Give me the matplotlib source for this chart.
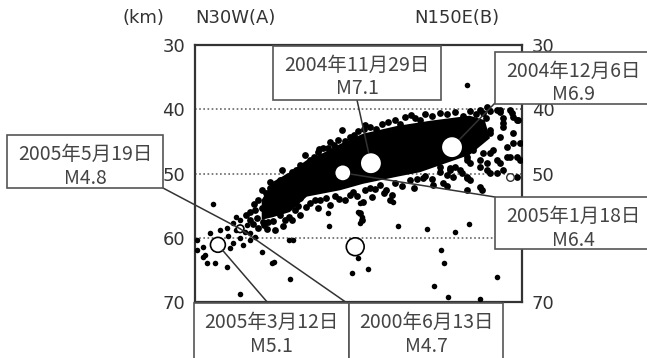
import matplotlib.pyplot as plt
from matplotlib.patches import Rectangle, ConnectionPatch

W, H = 647, 358

# 震源 (水平距離 km, 深さ km) -- 図から読み取った概略値
core_x = [10.2, 11.9, 14.5, 17.1, 19.6, 22.2, 25.7, 30.9, 35.9, 42.0, 44.3,
          45.1, 42.0, 37.5, 34.4, 30.9, 25.7, 22.2, 17.1, 14.5, 11.9, 10.2]
core_depth = [54.1, 51.3, 49.8, 47.9, 46.8, 45.4, 43.8, 42.6, 41.8, 41.0, 41.7,
              44.5, 47.1, 48.7, 49.8, 50.5, 51.6, 52.6, 53.6, 56.0, 56.8, 57.2]

band_upper = [(11.5, 52.2), (13.0, 51.0), (14.8, 49.8), (16.1, 48.7), (17.6, 47.9),
              (18.8, 46.6), (20.3, 46.0), (21.9, 44.8), (23.7, 44.3), (24.9, 43.4),
              (26.8, 42.8), (28.6, 42.3), (30.6, 41.7), (32.1, 41.2), (33.6, 41.4),
              (35.2, 40.7), (37.5, 40.6), (39.8, 40.4), (42.0, 40.3), (43.6, 40.1),
              (45.1, 40.3), (46.6, 40.4), (48.5, 40.6), (49.4, 41.7), (47.1, 41.4),
              (13.3, 49.4), (16.8, 47.1), (22.5, 43.2), (20.6, 45.1),
              (12.2, 51.9), (14.0, 50.6), (15.4, 49.5), (17.0, 48.6), (18.2, 47.4),
              (19.5, 46.0), (21.2, 45.6), (23.0, 44.9), (24.3, 44.0), (25.8, 43.1),
              (27.7, 43.0), (29.5, 42.0), (31.3, 42.3), (33.0, 40.9), (34.4, 41.6),
              (36.3, 41.1), (38.6, 40.8), (41.0, 41.0), (43.0, 40.8), (44.5, 41.3),
              (26.0, 42.4), (19.0, 46.2)]
band_lower = [(11.2, 57.5), (13.0, 56.4), (15.3, 55.7), (17.6, 54.6), (19.1, 54.1),
              (21.4, 53.5), (23.7, 53.3), (26.0, 52.6), (28.3, 51.8), (30.6, 51.5),
              (32.9, 51.0), (35.2, 50.4), (37.5, 49.8), (39.8, 49.0), (20.6, 54.9),
              (16.1, 56.4), (13.8, 57.2), (18.8, 55.4), (22.9, 54.1), (27.1, 53.6),
              (16.1, 53.8), (12.2, 58.8), (13.5, 58.2), (25.7, 54.4), (25.2, 56.1),
              (25.5, 57.2), (30.1, 53.3), (29.8, 54.1), (26.8, 52.2), (24.2, 52.9),
              (22.6, 51.5), (36.4, 51.8), (38.5, 51.9),
              (12.0, 57.4), (14.3, 56.8), (15.8, 55.0), (17.0, 55.2), (18.3, 54.2),
              (20.0, 53.8), (22.0, 53.9), (24.8, 53.5), (27.5, 52.4), (29.2, 52.6),
              (31.7, 51.9), (34.0, 50.9), (36.2, 50.9), (38.6, 50.3), (40.8, 49.9),
              (28.9, 53.0), (33.5, 52.2)]
band_left = [(9.6, 54.1), (9.2, 55.7), (10.2, 55.4), (11.2, 54.1), (9.5, 56.9),
             (8.4, 56.0), (7.8, 56.4), (12.2, 53.5), (10.2, 52.6), (11.5, 51.3),
             (9.6, 58.5), (10.6, 58.0), (11.0, 58.6), (14.8, 57.2), (8.4, 57.2),
             (10.4, 57.5), (9.0, 54.8), (10.8, 53.0), (8.9, 57.8)]
band_right = [(44.6, 39.6), (46.2, 40.1), (48.2, 40.1), (49.2, 41.7), (47.1, 42.1),
              (45.1, 43.2), (46.6, 44.3), (48.6, 43.7), (49.7, 45.2), (47.7, 45.9),
              (45.6, 46.3), (44.0, 46.8), (44.6, 48.4), (46.2, 47.9), (48.2, 47.4),
              (49.7, 47.9), (47.1, 49.4), (45.1, 49.9), (43.6, 49.0), (42.0, 48.4),
              (41.6, 47.4), (42.5, 45.9), (49.2, 50.5), (40.5, 49.4), (39.0, 49.1),
              (39.4, 50.5), (42.0, 51.0), (41.6, 47.9), (42.5, 46.3), (43.6, 47.9),
              (45.1, 46.8), (46.6, 48.4), (47.7, 47.4), (48.6, 45.2), (49.2, 47.4),
              (44.6, 49.4), (46.2, 49.9), (41.6, 50.5), (39.0, 49.4), (37.5, 49.0),
              (34.9, 48.4), (32.9, 49.4), (45.1, 43.7), (47.1, 42.8), (48.6, 41.2),
              (44.0, 40.6), (46.6, 40.1), (43.6, 52.1), (41.6, 52.6), (37.9, 51.5),
              (34.9, 50.7), (41.6, 50.7), (43.9, 52.6)]
shallow_dots = [(41.6, 36.2)]
deep_dots = [(20.3, 56.1), (20.5, 58.2), (25.2, 54.6), (24.9, 56.0), (25.5, 56.8),
             (25.2, 57.7), (30.3, 54.4), (31.0, 58.2), (35.5, 58.6), (39.8, 59.1),
             (41.9, 57.8), (37.6, 61.9), (38.1, 63.9), (26.5, 64.8), (24.0, 65.5),
             (46.2, 66.1), (36.5, 67.5), (38.7, 69.2), (43.6, 69.5), (24.9, 63.1),
             (2.8, 54.7), (0.3, 60.3), (0.3, 61.9), (1.2, 63.0), (1.8, 63.9),
             (3.1, 63.9), (4.9, 64.5), (6.9, 68.7), (11.8, 63.9), (12.1, 63.7),
             (14.5, 66.4), (10.2, 62.2), (14.4, 60.3), (15.0, 60.3)]
sw_cluster = [(2.3, 59.2), (3.8, 58.8), (4.9, 58.5), (5.8, 57.7), (6.9, 57.2),
              (8.0, 58.0), (8.4, 59.2), (6.9, 60.0), (5.8, 60.8), (7.3, 61.1),
              (8.4, 60.3), (1.2, 61.4), (1.5, 62.7), (6.3, 58.8), (5.0, 59.7),
              (7.6, 59.1), (9.2, 59.9), (6.3, 56.8), (5.4, 61.6)]

# 主な地震
event_date = ['2004年11月29日', '2004年12月6日', '2005年1月18日',
              '2005年3月12日', '2005年5月19日', '2000年6月13日']
event_mag = ['M7.1', 'M6.9', 'M6.4', 'M5.1', 'M4.8', 'M4.7']
event_x = [26.9, 39.3, 22.6, 3.5, 6.9, 24.5]
event_depth = [48.4, 45.9, 49.9, 61.1, 58.6, 61.4]
other_x = [48.2]
other_depth = [50.5]

depth_ticks = [30, 40, 50, 60, 70]

fig = plt.figure(figsize=(W / 100, H / 100), dpi=100)
ax = fig.add_axes([195 / W, 1 - 302 / H, 327 / W, 257 / H])
ax.set_xlim(0, 50)
ax.set_ylim(70, 30)

ax.fill(core_x, core_depth, color='black', lw=0, zorder=2)
for group in (band_upper, band_lower, band_left, band_right):
    xs, ds = zip(*group)
    ax.scatter(xs, ds, s=24, c='black', lw=0, zorder=3)
for group in (shallow_dots, deep_dots, sw_cluster):
    xs, ds = zip(*group)
    ax.scatter(xs, ds, s=16, c='black', lw=0, zorder=3)

event_ms = [240, 240, 140, 115, 30, 165]
ax.scatter(event_x, event_depth, s=event_ms, facecolor='white', edgecolor='black', lw=1.2, zorder=4)
ax.scatter(other_x, other_depth, s=30, facecolor='white', edgecolor='#333', lw=1.0, zorder=4)

ax.set_xticks([])
ax.set_yticks(depth_ticks)
ax.grid(axis='y', color='#666', ls=(0, (1, 1.5)), lw=1.2)
ax.set_axisbelow(True)
ax.tick_params(axis='y', length=0, pad=7, labelsize=13, labelcolor='#333',
               labelleft=True, labelright=True)
for sp in ax.spines.values():
    sp.set_linewidth(1.6)
    sp.set_color('#333')

fig.text(143 / W, 1 - 18 / H, '(km)', ha='center', va='center', fontsize=13, color='#333')
fig.text(235 / W, 1 - 18 / H, 'N30W(A)', ha='center', va='center', fontsize=13, color='#333')
fig.text(457 / W, 1 - 18 / H, 'N150E(B)', ha='center', va='center', fontsize=13, color='#333')

# 引き出し線とラベル枠 (ピクセル位置)
boxes = [(273, 46, 441, 100), (495, 52, 652, 104), (495, 197, 652, 249),
         (194, 303, 349, 362), (7, 135, 163, 188), (349, 303, 503, 362)]
leaders = [((357, 100), 0, 8), ((495, 103), 1, 8), ((495, 197), 2, 6),
           ((268, 303), 3, 5), ((163, 188), 4, 0), ((347, 303), 4, 0)]

for (px, py), i, shrink in leaders:
    con = ConnectionPatch(xyA=(px, H - py), coordsA='figure pixels',
                          xyB=(event_x[i], event_depth[i]), coordsB='data', axesB=ax,
                          color='#333', lw=1.1, shrinkA=0, shrinkB=shrink, zorder=3)
    fig.add_artist(con)

cjk = ['Noto Sans CJK JP', 'DejaVu Sans']
for (l, t, r, b), date, mag in zip(boxes, event_date, event_mag):
    fig.add_artist(Rectangle((l / W, 1 - b / H), (r - l) / W, (b - t) / H,
                             transform=fig.transFigure, facecolor='white',
                             edgecolor='#555', lw=1.2, zorder=5))
    cx = (l + r) / 2 / W
    fig.text(cx, 1 - (t + 19) / H, date, ha='center', va='center', fontsize=14,
             family=cjk, color='#444', zorder=6)
    fig.text(cx, 1 - (t + 43) / H, mag, ha='center', va='center', fontsize=14,
             family=cjk, color='#444', zorder=6)

fig.savefig('out.png', dpi=100)
